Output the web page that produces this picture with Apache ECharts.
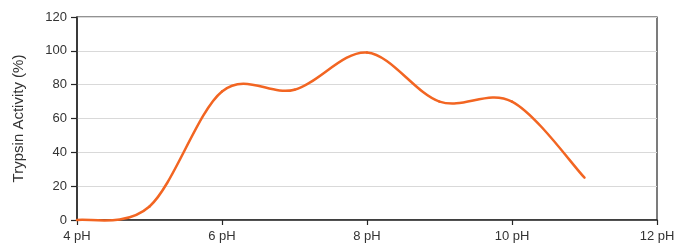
<!DOCTYPE html>
<html><head><meta charset="utf-8">
<script src="https://cdn.jsdelivr.net/npm/echarts@6/dist/echarts.min.js"></script>
<style>html,body{margin:0;padding:0;background:#fff}#c{width:678px;height:245px}</style>
</head><body><div id="c"></div>
<script>
const phValues = [4, 5, 6, 7, 8, 9, 10, 11];
const activity = [0, 8, 76, 77, 99, 70, 70, 25];
const yTicks = [0, 20, 40, 60, 80, 100, 120];
const xTicks = [4, 6, 8, 10, 12];

const chart = echarts.init(document.getElementById('c'));
const font = 'Liberation Sans, Arial, sans-serif';
const pts = phValues.map((x, i) => [x, activity[i]]);

// Catmull-Rom style smoothing (like spreadsheet "smoothed line"), positions via axis scales
function renderSegment(params, api) {
  const i = params.dataIndex;
  if (i >= pts.length - 1) return null;
  const n = pts.length;
  const P = k => api.coord(pts[Math.max(0, Math.min(n - 1, k))]);
  const p0 = P(i - 1), p1 = P(i), p2 = P(i + 1), p3 = P(i + 2);
  const cp1 = [p1[0] + (p2[0] - p0[0]) / 6, p1[1] + (p2[1] - p0[1]) / 6];
  const cp2 = [p2[0] - (p3[0] - p1[0]) / 6, p2[1] - (p3[1] - p1[1]) / 6];
  return {
    type: 'bezierCurve',
    z2: 10,
    shape: { x1: p1[0], y1: p1[1], x2: p2[0], y2: p2[1], cpx1: cp1[0], cpy1: cp1[1], cpx2: cp2[0], cpy2: cp2[1] },
    style: { stroke: '#f26522', lineWidth: 2.5, fill: null, lineCap: 'round' }
  };
}

chart.setOption({
  animation: false,
  grid: { left: 77, right: 21, top: 17, bottom: 25, show: true, borderColor: '#262626', borderWidth: 1.2 },
  xAxis: {
    type: 'value', min: xTicks[0], max: xTicks[xTicks.length-1], interval: 2,
    axisLine: { lineStyle: { color: '#262626', width: 1.5 } },
    axisTick: { show: true, length: 5, lineStyle: { color: '#262626', width: 1.2 } },
    axisLabel: { formatter: '{value} pH', color: '#333', fontFamily: font, fontSize: 13, margin: 10 },
    splitLine: { show: false }
  },
  yAxis: {
    type: 'value', min: yTicks[0], max: yTicks[yTicks.length-1], interval: 20,
    name: 'Trypsin Activity (%)', nameLocation: 'middle', nameGap: 51,
    nameTextStyle: { color: '#333', fontFamily: font, fontSize: 15 },
    axisLine: { show: true, lineStyle: { color: '#262626', width: 1.5 } },
    axisTick: { show: true, length: 6, lineStyle: { color: '#262626', width: 1.2 } },
    axisLabel: { color: '#333', fontFamily: font, fontSize: 13, margin: 10 },
    splitLine: { show: true, lineStyle: { color: '#d9d9d9', width: 1 } }
  },
  series: [{
    type: 'custom',
    renderItem: renderSegment,
    data: pts,
    encode: { x: 0, y: 1 },
    clip: false,
    z: 10
  }]
});
</script></body></html>
